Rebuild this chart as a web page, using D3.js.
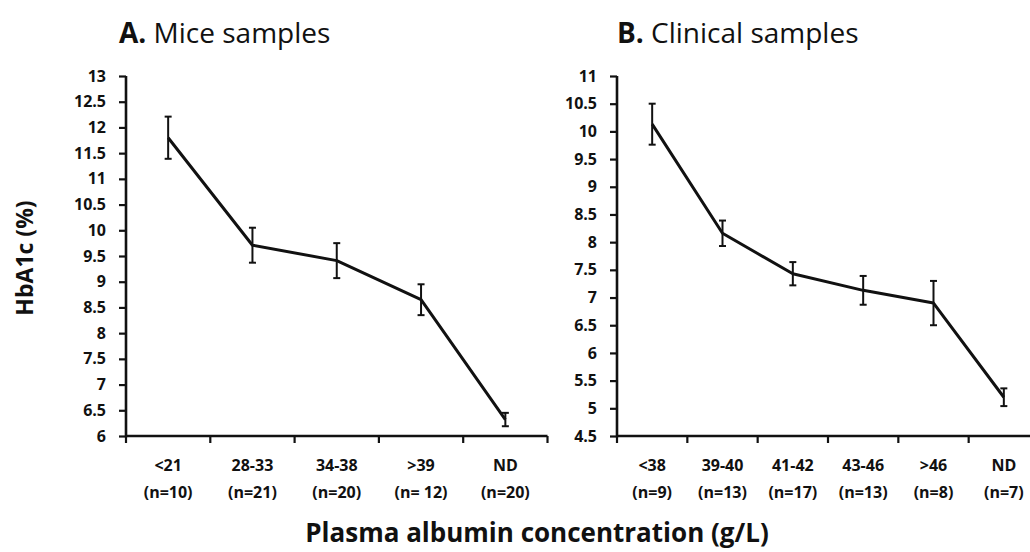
<!DOCTYPE html>
<html>
<head>
<meta charset="utf-8">
<script src="https://cdn.jsdelivr.net/npm/d3@7"></script>
<style>
  body { margin: 0; background: #fff; }
  text { font-family: "Open Sans", Lato, sans-serif; fill: #111; }
</style>
</head>
<body>
<div id="chart"></div>
<script>
// panel A - mice
const miceCats = ["<21", "28-33", "34-38", ">39", "ND"];
const miceN = ["(n=10)", "(n=21)", "(n=20)", "(n= 12)", "(n=20)"];
const miceMean = [11.8, 9.71, 9.41, 8.65, 6.32];
const miceErr = [0.41, 0.34, 0.34, 0.3, 0.13];
const miceTicks = [6, 6.5, 7, 7.5, 8, 8.5, 9, 9.5, 10, 10.5, 11, 11.5, 12, 12.5, 13];

// panel B - clinical
const clinCats = ["<38", "39-40", "41-42", "43-46", ">46", "ND"];
const clinN = ["(n=9)", "(n=13)", "(n=17)", "(n=13)", "(n=8)", "(n=7)"];
const clinMean = [10.13, 8.16, 7.43, 7.13, 6.9, 5.2];
const clinErr = [0.37, 0.23, 0.21, 0.26, 0.4, 0.16];
const clinTicks = [4.5, 5, 5.5, 6, 6.5, 7, 7.5, 8, 8.5, 9, 9.5, 10, 10.5, 11];

const width = 1030, height = 552;

const svg = d3.select('#chart').append('svg')
  .attr('width', width)
  .attr('height', height);

function drawPanel(opts) {
  const x = d3.scaleBand()
    .domain(opts.cats)
    .range([opts.left, opts.right]);
  const y = d3.scaleLinear()
    .domain([opts.ticks[0], opts.ticks[opts.ticks.length - 1]])
    .range([436, 76]);

  const g = svg.append('g');

  // title
  const t = g.append('text')
    .attr('x', opts.titleX)
    .attr('y', 43)
    .style('font-size', '28px');
  t.append('tspan').style('font-weight', 'bold').text(opts.letter);
  t.append('tspan').text(' ' + opts.title);

  // y axis
  const yAxis = g.append('g')
    .attr('transform', 'translate(' + opts.left + ',0)')
    .call(d3.axisLeft(y).tickValues(opts.ticks).tickSize(7).tickPadding(13).tickFormat(d3.format('')));
  yAxis.selectAll('text')
    .style('font-size', '16px')
    .style('font-weight', 'bold')
    .style('font-family', '"Open Sans", sans-serif')
    .attr('fill', '#111');

  // x axis, ticks at category boundaries
  const bounds = opts.cats.map(c => x(c)).concat([opts.right]);
  const xAxis = g.append('g')
    .attr('transform', 'translate(0,436)');
  xAxis.append('line')
    .attr('x1', opts.left).attr('x2', opts.right)
    .attr('stroke', '#111').attr('stroke-width', 2.6);
  xAxis.selectAll('line.tick')
    .data(bounds)
    .enter().append('line')
    .attr('class', 'tick')
    .attr('x1', d => d).attr('x2', d => d)
    .attr('y1', 0).attr('y2', 7)
    .attr('stroke', '#111').attr('stroke-width', 2.2);

  yAxis.select('.domain').attr('stroke', '#111').attr('stroke-width', 2.6)
    .attr('d', 'M0,' + y.range()[1] + 'V' + (y.range()[0] + 1.3));
  yAxis.selectAll('.tick line').attr('stroke', '#111').attr('stroke-width', 2.2);

  const labels = g.selectAll('text.cat')
    .data(opts.cats)
    .enter().append('text')
    .attr('class', 'cat')
    .attr('x', d => x(d) + x.bandwidth() / 2)
    .attr('y', 471)
    .attr('text-anchor', 'middle')
    .style('font-size', '16px')
    .style('font-weight', 'bold');
  labels.append('tspan').text(d => d);
  labels.append('tspan')
    .attr('x', d => x(d) + x.bandwidth() / 2)
    .attr('dy', 27)
    .text((d, i) => opts.n[i]);

  const pts = opts.cats.map((c, i) => ({ c: c, m: opts.mean[i], e: opts.err[i] }));

  // line
  const line = d3.line()
    .x(d => x(d.c) + x.bandwidth() / 2)
    .y(d => y(d.m));
  g.append('path')
    .datum(pts)
    .attr('d', line)
    .attr('fill', 'none')
    .attr('stroke', '#111')
    .attr('stroke-width', 3)
    .attr('stroke-linejoin', 'round');

  // error bars
  const eb = g.selectAll('g.err')
    .data(pts)
    .enter().append('g')
    .attr('class', 'err')
    .attr('stroke', '#111')
    .attr('stroke-width', 2);
  const cx = d => x(d.c) + x.bandwidth() / 2;
  eb.append('line')
    .attr('x1', cx).attr('x2', cx)
    .attr('y1', d => y(d.m + d.e)).attr('y2', d => y(d.m - d.e));
  eb.append('line')
    .attr('x1', d => cx(d) - 3.5).attr('x2', d => cx(d) + 3.5)
    .attr('y1', d => y(d.m + d.e)).attr('y2', d => y(d.m + d.e));
  eb.append('line')
    .attr('x1', d => cx(d) - 3.5).attr('x2', d => cx(d) + 3.5)
    .attr('y1', d => y(d.m - d.e)).attr('y2', d => y(d.m - d.e));
}

drawPanel({
  cats: miceCats, n: miceN, mean: miceMean, err: miceErr, ticks: miceTicks,
  left: 126, right: 547.5, letter: 'A.', title: 'Mice samples', titleX: 119
});

drawPanel({
  cats: clinCats, n: clinN, mean: clinMean, err: clinErr, ticks: clinTicks,
  left: 617, right: 1039, letter: 'B.', title: 'Clinical samples', titleX: 617
});

// axis titles
svg.append('text')
  .attr('transform', 'translate(33,258) rotate(-90)')
  .attr('text-anchor', 'middle')
  .style('font-size', '23px')
  .style('font-weight', 'bold')
  .text('HbA1c (%)');

svg.append('text')
  .attr('x', 537)
  .attr('y', 542)
  .attr('text-anchor', 'middle')
  .style('font-size', '26px')
  .style('font-weight', 'bold')
  .text('Plasma albumin concentration (g/L)');
</script>
</body>
</html>
